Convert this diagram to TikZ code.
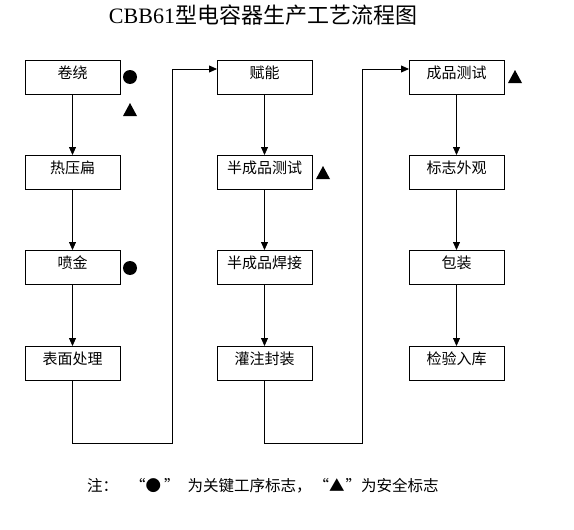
\documentclass[tikz,border=0pt]{standalone}
\usepackage{fontspec}
\setmainfont{Liberation Serif}
\newfontfamily\cjk{Noto Sans CJK SC}
\usetikzlibrary{arrows.meta}
\begin{document}
\begin{tikzpicture}[x=1pt,y=-1pt,
  box/.style={draw,line width=0.8pt,minimum width=95pt,inner sep=0pt,
    text height=18pt,text depth=16pt,anchor=north,
    font=\cjk\fontsize{15}{15}\selectfont},
  arr/.style={line width=0.8pt,-{Triangle[length=8pt,width=7pt]}},
  sym/.style={fill=black}]
\useasboundingbox (0,0) rectangle (574,530);
\node (title) at (263,15) {\fontsize{22}{22}\selectfont CBB61\cjk 型电容器生产工艺流程图};
% column 1
\node[box] (a1) at (72.5,60) {卷绕};
\node[box] (a2) at (72.5,155) {热压扁};
\node[box] (a3) at (72.5,250) {喷金};
\node[box] (a4) at (72.5,346) {表面处理};
% column 2
\node[box] (b1) at (264.5,60) {赋能};
\node[box] (b2) at (264.5,155) {半成品测试};
\node[box] (b3) at (264.5,250) {半成品焊接};
\node[box] (b4) at (264.5,346) {灌注封装};
% column 3
\node[box] (c1) at (456.5,60) {成品测试};
\node[box] (c2) at (456.5,155) {标志外观};
\node[box] (c3) at (456.5,250) {包装};
\node[box] (c4) at (456.5,346) {检验入库};
% arrows
\draw[arr] (a1) -- (a2);
\draw[arr] (a2) -- (a3);
\draw[arr] (a3) -- (a4);
\draw[arr] (b1) -- (b2);
\draw[arr] (b2) -- (b3);
\draw[arr] (b3) -- (b4);
\draw[arr] (c1) -- (c2);
\draw[arr] (c2) -- (c3);
\draw[arr] (c3) -- (c4);
% cross-column connectors
\coordinate (j1) at (172,443);
\coordinate (e1) at (217,69);
\coordinate (j2) at (362,443);
\coordinate (e2) at (409,69);
\draw[arr] (a4.south) |- (j1) |- (e1);
\draw[arr] (b4.south) |- (j2) |- (e2);
% marks
\fill[sym] (130,77) circle (7);
\fill[sym] (123,116) -- (137,116) -- (130,103) -- cycle;
\fill[sym] (130,268) circle (7);
\fill[sym] (316,179) -- (330,179) -- (323,166) -- cycle;
\fill[sym] (508,83) -- (522,83) -- (515,70) -- cycle;
% note
\node[anchor=west,inner sep=0pt,font=\cjk\fontsize{15.5}{15.5}\selectfont] (note) at (87,486)
  {注：\hspace{12pt}“●\hspace{3pt}”\hspace{8pt}为关键工序标志，\hspace{2pt}“▲\hspace{1pt}”为安全标志};
\end{tikzpicture}
\end{document}
